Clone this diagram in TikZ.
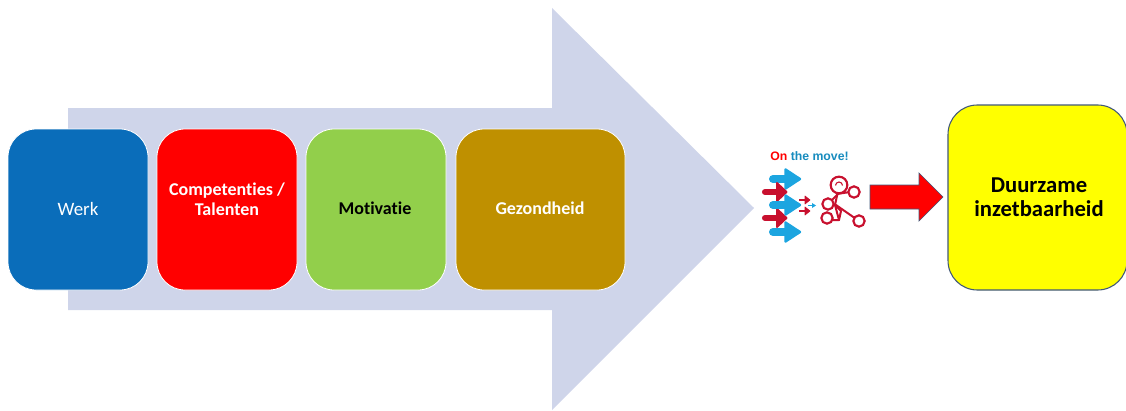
\documentclass[tikz,border=0pt]{standalone}
\usepackage{fontspec}
\setmainfont[Ligatures=NoCommon]{Carlito}
\newfontfamily\iconfont{Liberation Sans}
\definecolor{bandc}{HTML}{CFD5EA}
\definecolor{werkc}{HTML}{0A6DBA}
\definecolor{motic}{HTML}{92CF4B}
\definecolor{gezoc}{HTML}{BF9000}
\definecolor{iconblue}{HTML}{1CA5E0}
\definecolor{iconred}{HTML}{C8102E}
\definecolor{edgec}{HTML}{41587A}
\definecolor{pureyellow}{HTML}{FFFF00}
\tikzset{
  card/.style={draw=white,line width=0.6pt,rounded corners=21pt,text=white,font=\fontsize{13.5}{15}\selectfont\bfseries,align=center,inner sep=0pt},
  bluearrow/.style={draw=iconblue,line width=6pt,line cap=round},
  bluehead/.style={fill=iconblue,draw=iconblue,line width=1.8pt,line join=round},
  redarrow/.style={draw=iconred,line width=4.6pt,line cap=round},
  redhead/.style={fill=iconred,draw=iconred,line width=1.4pt,line join=round},
  ring/.style={draw=iconred,line width=1.6pt,fill=white},
  limb/.style={draw=iconred,line width=1.5pt,line join=round,line cap=round}
}
\begin{document}
\begin{tikzpicture}[x=0.75pt,y=-0.75pt]
\useasboundingbox (0,0) rectangle (1126,410);
% large background arrow
\fill[bandc] (68,108) -- (552,108) -- (552,8) -- (754,208) -- (552,410) -- (552,310) -- (68,310) -- cycle;
% cards
\path[card,fill=werkc] (8,129) rectangle (148,290);
\node[text=white,font=\fontsize{14.2}{16}\selectfont] (werk) at (78,208.5) {Werk};
\path[card,fill=red] (157,129) rectangle (297,290);
\node[card,draw=none] (comp) at (227,199) {Competenties /\\Talenten};
\path[card,fill=motic] (306,129) rectangle (446,290);
\node[card,draw=none,text=black] (moti) at (375,208.5) {Motivatie};
\path[card,fill=gezoc] (456,129) rectangle (625,290);
\node[card,draw=none] (gezo) at (540,208.5) {Gezondheid};
% yellow box
\draw[edgec,line width=0.8pt,fill=pureyellow,rounded corners=22pt] (948,105) rectangle (1127,290);
\node[font=\fontsize{17}{18}\selectfont\bfseries,align=center,inner sep=0pt] (duur) at (1039,197) {Duurzame\\inzetbaarheid};
% icon caption
\node[font=\iconfont\fontsize{9.2}{11}\selectfont\bfseries,inner sep=0pt] (cap) at (809.5,156.5) {\textcolor{red}{On} \textcolor{iconblue!85!black}{the move!}};
% icon: blue arrows at the back row
\foreach \yy in {179,232}{
  \draw[bluearrow] (773,\yy) -- (790,\yy);
  \filldraw[bluehead] (785.5,\yy-9.5) -- (800,\yy) -- (785.5,\yy+9.5) -- cycle;
}
% icon: red arrows
\foreach \yy in {192,218}{
  \draw[redarrow] (765,\yy) -- (780,\yy);
  \filldraw[redhead] (777,\yy-9) -- (786.5,\yy) -- (777,\yy+9) -- cycle;
}
% icon: middle blue arrow in front
\foreach \yy in {205}{
  \draw[bluearrow] (773,\yy) -- (790,\yy);
  \filldraw[bluehead] (785.5,\yy-9.5) -- (800,\yy) -- (785.5,\yy+9.5) -- cycle;
}
\foreach \yy in {200,211}{
  \draw[iconred,line width=1.8pt] (799,\yy) -- (806,\yy);
  \filldraw[redhead,line width=0.5pt] (805,\yy-4) -- (810,\yy) -- (805,\yy+4) -- cycle;
}
\draw[iconblue,line width=1pt] (808,205.5) -- (813,205.5);
\fill[iconblue] (812,203) -- (816,205.5) -- (812,208) -- cycle;
% icon: figure
\draw[limb] (838,191) -- (835,205) -- (839,220) -- (829,220);
\draw[limb] (839,220) -- (841,211) -- (835,205);
\draw[limb] (837,194) -- (850,192);
\draw[limb] (838,194) -- (828,204);
\draw[limb] (836,205) -- (859,221);
\node[ring,circle,minimum size=12.5pt,inner sep=0pt] (head) at (839,185) {};
\draw[iconred,line width=0.8pt] (835.5,185.5) arc[start angle=180,end angle=360,radius=3.5];
\node[ring,circle,minimum size=8.5pt,inner sep=0pt] (h1) at (854,192) {};
\node[ring,circle,minimum size=8.5pt,inner sep=0pt] (h2) at (828,204) {};
\node[ring,circle,minimum size=8.5pt,inner sep=0pt] (f1) at (827,218) {};
\node[ring,circle,minimum size=8.5pt,inner sep=0pt] (f2) at (859,221) {};
% red block arrow
\draw[edgec,line width=0.5pt,fill=red] (870,185) -- (919,185) -- (919,173) -- (943,197) -- (919,221) -- (919,209) -- (870,209) -- cycle;
\end{tikzpicture}
\end{document}
